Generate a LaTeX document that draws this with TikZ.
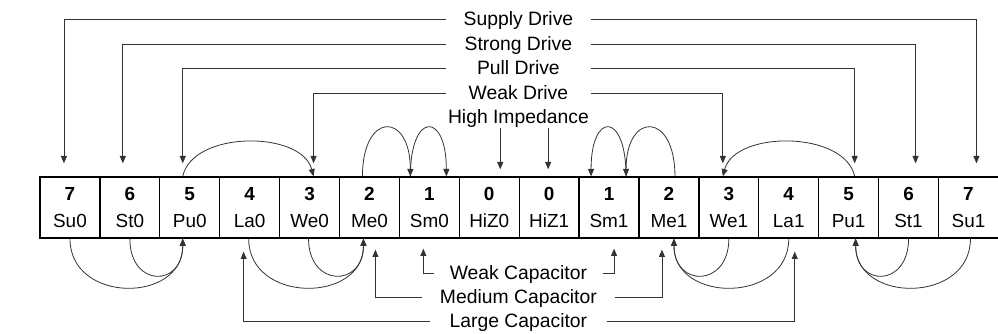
\documentclass[tikz,border=0pt]{standalone}
\usepackage{fontspec}
\setmainfont{Liberation Sans}
\usetikzlibrary{arrows.meta,positioning,calc}

\begin{document}
\begin{tikzpicture}[
    x=0.75pt, y=0.75pt,
    cell/.style={rectangle, draw, line width=1pt, minimum width=44.9pt, minimum height=45.75pt, inner sep=0pt, align=center, font=\fontsize{14.2}{20.25}\selectfont},
    lbl/.style={inner sep=0pt, minimum width=#1, text height=10.4pt, text depth=0pt, text centered, font=\fontsize{14.5}{17}\selectfont},
    lbl/.default=108pt,
    arr/.style={-{Triangle[length=5.5pt, width=4.5pt]}, line width=0.6pt, black!80}
]
\useasboundingbox (0,0) rectangle (998,334);

% Strength scale, one cell per state
\foreach \n/\s [count=\i from 0] in {7/Su0,6/St0,5/Pu0,4/La0,3/We0,2/Me0,1/Sm0,0/HiZ0,0/HiZ1,1/Sm1,2/Me1,3/We1,4/La1,5/Pu1,6/St1,7/Su1}
    \node[cell] (\s) at ({69.95+59.9*\i}, 126.5) {\textbf{\n}\\\s};

% Drive labels
\node[lbl] (supply) at (518.4, 315) {Supply Drive};
\node[lbl] (strong) at (518.4, 290) {Strong Drive};
\node[lbl] (pull) at (518.4, 266) {Pull Drive};
\node[lbl] (weak) at (518.4, 241) {Weak Drive};
\node[lbl=0pt] (hiz) at (518.4, 217) {High Impedance};

% Capacitor labels
\node[lbl=126pt] (weakcap) at (518.4, 61) {Weak Capacitor};
\node[lbl=144pt] (medcap) at (518.4, 37) {Medium Capacitor};
\node[lbl=132pt] (largecap) at (518.4, 13) {Large Capacitor};

% Drive arrows
\draw[arr] (supply.west) -| ($(Su0.north)+(-6,13)$);
\draw[arr] (supply.east) -| ($(Su1.north)+(8,13)$);
\draw[arr] (strong.west) -| ($(St0.north)+(-7,13)$);
\draw[arr] (strong.east) -| ($(St1.north)+(7,13)$);
\draw[arr] (pull.west) -| ($(Pu0.north)+(-7,13)$);
\draw[arr] (pull.east) -| ($(Pu1.north)+(6,13)$);
\draw[arr] (weak.west) -| ($(We0.north)+(4,13)$);
\draw[arr] (weak.east) -| ($(We1.north)+(-6,13)$);

% High impedance arrows
\coordinate (hz0) at ($(HiZ0.north)+(11,7)$);
\coordinate (hz1) at ($(HiZ1.north)+(-1,7)$);
\draw[arr, shorten <=3pt] (hiz.south -| hz0) -- (hz0);
\draw[arr, shorten <=3pt] (hiz.south -| hz1) -- (hz1);

% Capacitor arrows
\draw[arr] (weakcap.west) -| ($(Sm0.south)+(-6,-10)$);
\draw[arr] (weakcap.east) -| ($(Sm1.south)+(5,-10)$);
\draw[arr] (medcap.west) -| ($(Me0.south)+(6,-11)$);
\draw[arr] (medcap.east) -| ($(Me1.south)+(-7,-11)$);
\draw[arr] (largecap.west) -| ($(La0.south)+(-6,-13)$);
\draw[arr] (largecap.east) -| ($(La1.south)+(6,-13)$);

% Arcs over the cells
\draw[arr] ($(Pu0.north)+(-7,0)$) .. controls +(10,46) and +(-12,46) .. ($(We0.north)+(4,0)$);
\draw[arr] ($(Pu1.north)+(6,0)$) .. controls +(-10,46) and +(12,46) .. ($(We1.north)+(-6,0)$);
\draw[arr] ($(Me0.north)+(-7,0)$) .. controls +(0,65) and +(0,65) .. ($(Sm0.north)+(-19,0)$);
\draw[arr] ($(Sm0.north)+(-19,0)$) .. controls +(0,65) and +(0,65) .. ($(Sm0.north)+(17,0)$);
\draw[arr] ($(Me1.north)+(6,0)$) .. controls +(0,65) and +(0,65) .. ($(Sm1.north)+(17,0)$);
\draw[arr] ($(Sm1.north)+(17,0)$) .. controls +(0,65) and +(0,65) .. ($(Sm1.north)+(-18,0)$);

% Arcs under the cells
\draw[arr] (Su0.south) .. controls +(0,-65) and +(0,-65) .. ($(Pu0.south)+(-7,0)$);
\draw[arr] (St0.south) .. controls +(0,-49) and +(0,-49) .. ($(Pu0.south)+(-7,0)$);
\draw[arr] ($(La0.south)+(-1,0)$) .. controls +(0,-65) and +(0,-65) .. ($(Me0.south)+(-6,0)$);
\draw[arr] ($(We0.south)+(-1,0)$) .. controls +(0,-49) and +(0,-49) .. ($(Me0.south)+(-6,0)$);
\draw[arr] (La1.south) .. controls +(0,-65) and +(0,-65) .. ($(Me1.south)+(5,0)$);
\draw[arr] (We1.south) .. controls +(0,-49) and +(0,-49) .. ($(Me1.south)+(5,0)$);
\draw[arr] ($(Su1.south)+(2,0)$) .. controls +(0,-65) and +(0,-65) .. ($(Pu1.south)+(7,0)$);
\draw[arr] (St1.south) .. controls +(0,-49) and +(0,-49) .. ($(Pu1.south)+(7,0)$);

\end{tikzpicture}
\end{document}
